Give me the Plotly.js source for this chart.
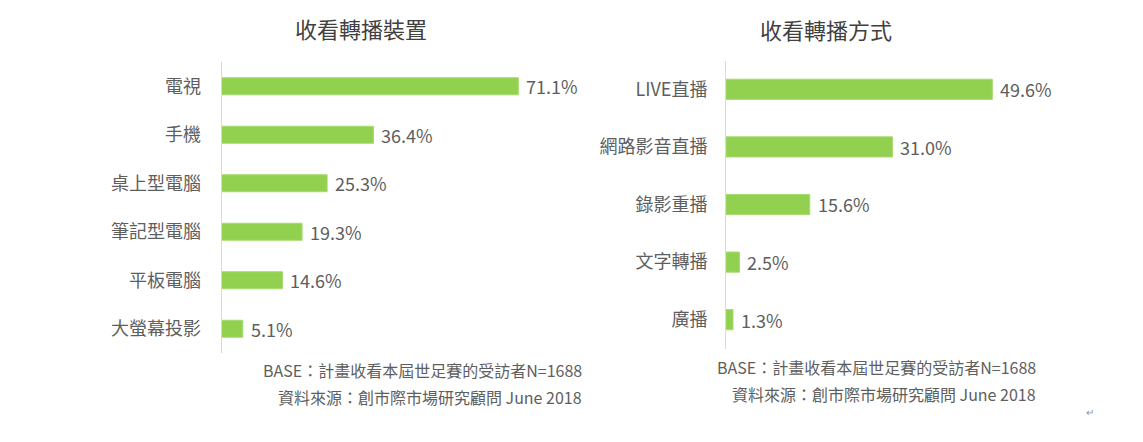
<!DOCTYPE html>
<html>
<head>
<meta charset="utf-8">
<script src="https://cdn.plot.ly/plotly-3.0.1.min.js"></script>
<style>html,body{margin:0;padding:0;background:#fff;}#chart{width:1143px;height:442px;}</style>
</head>
<body>
<div id="chart"></div>
<script>
// Data
const deviceCategories = ["電視", "手機", "桌上型電腦", "筆記型電腦", "平板電腦", "大螢幕投影"];
const deviceValues = [71.1, 36.4, 25.3, 19.3, 14.6, 5.1];
const methodCategories = ["LIVE直播", "網路影音直播", "錄影重播", "文字轉播", "廣播"];
const methodValues = [49.6, 31.0, 15.6, 2.5, 1.3];
const leftTitle = "收看轉播裝置";
const rightTitle = "收看轉播方式";
const footBase = "BASE：計畫收看本屆世足賽的受訪者N=1688";
const footSource = "資料來源：創市際市場研究顧問 June 2018";

const W = 1143, H = 442;
const px = v => v / W;
const py = v => 1 - v / H;
const FONT = '"Noto Sans CJK TC", "Noto Sans", sans-serif';
const GREEN = '#92D050';
const TXT = '#5E5E5E';

const traces = [
  {type:'bar', orientation:'h', x:deviceValues, y:deviceCategories, xaxis:'x', yaxis:'y',
   marker:{color:GREEN, line:{color:'#A6DA70', width:1}}, hoverinfo:'skip'},
  {type:'bar', orientation:'h', x:methodValues, y:methodCategories, xaxis:'x2', yaxis:'y2',
   marker:{color:GREEN, line:{color:'#A6DA70', width:1}}, hoverinfo:'skip'}
];

const annotations = [];
deviceValues.forEach((v,i)=>annotations.push({x:v, y:deviceCategories[i], xref:'x', yref:'y',
  text:v.toFixed(1)+'%', showarrow:false, xanchor:'left', yanchor:'middle', xshift:6,
  font:{family:FONT, size:18, color:TXT}}));
methodValues.forEach((v,i)=>annotations.push({x:v, y:methodCategories[i], xref:'x2', yref:'y2',
  text:v.toFixed(1)+'%', showarrow:false, xanchor:'left', yanchor:'middle', xshift:6,
  font:{family:FONT, size:18, color:TXT}}));

function note(text, x, y, anchor, size, color){
  annotations.push({text:text, x:px(x), y:py(y), xref:'paper', yref:'paper',
    xanchor:anchor, yanchor:'middle', showarrow:false,
    font:{family:FONT, size:size, color:color}});
}
note(leftTitle, 361, 28, 'center', 22, '#404040');
note(rightTitle, 826, 29, 'center', 22, '#404040');
note(footBase, 584, 370, 'right', 16, TXT);
note(footSource, 584, 397, 'right', 16, TXT);
note(footBase, 1038, 367, 'right', 16, TXT);
note(footSource, 1038, 393.5, 'right', 16, TXT);
note('↵', 1090, 411, 'center', 10, '#909090');

const hiddenX = {showgrid:false, zeroline:false, showline:false, showticklabels:false, ticks:'', fixedrange:true};
const yBase = {type:'category', autorange:'reversed', showgrid:false, zeroline:false, showline:true,
  linecolor:'#D9D9D9', linewidth:1, ticks:'', ticklabelstandoff:16,
  tickfont:{family:FONT, size:18, color:TXT}, fixedrange:true};

const layout = {
  width:W, height:H, margin:{l:0, r:0, t:0, b:0},
  paper_bgcolor:'#fff', plot_bgcolor:'#fff', showlegend:false,
  bargap:0.65, font:{family:FONT, color:TXT},
  xaxis: Object.assign({}, hiddenX, {domain:[px(221.5), px(221.5 + 4.175*80)], range:[0,80], anchor:'y'}),
  yaxis: Object.assign({}, yBase, {domain:[py(353), py(62)], anchor:'x'}),
  xaxis2: Object.assign({}, hiddenX, {domain:[px(726), px(726 + 5.37*55)], range:[0,55], anchor:'y2'}),
  yaxis2: Object.assign({}, yBase, {domain:[py(348.5), py(60.5)], anchor:'x2', ticklabelstandoff:14}),
  annotations: annotations
};

Plotly.newPlot('chart', traces, layout, {displayModeBar:false, staticPlot:true});
</script>
</body>
</html>
